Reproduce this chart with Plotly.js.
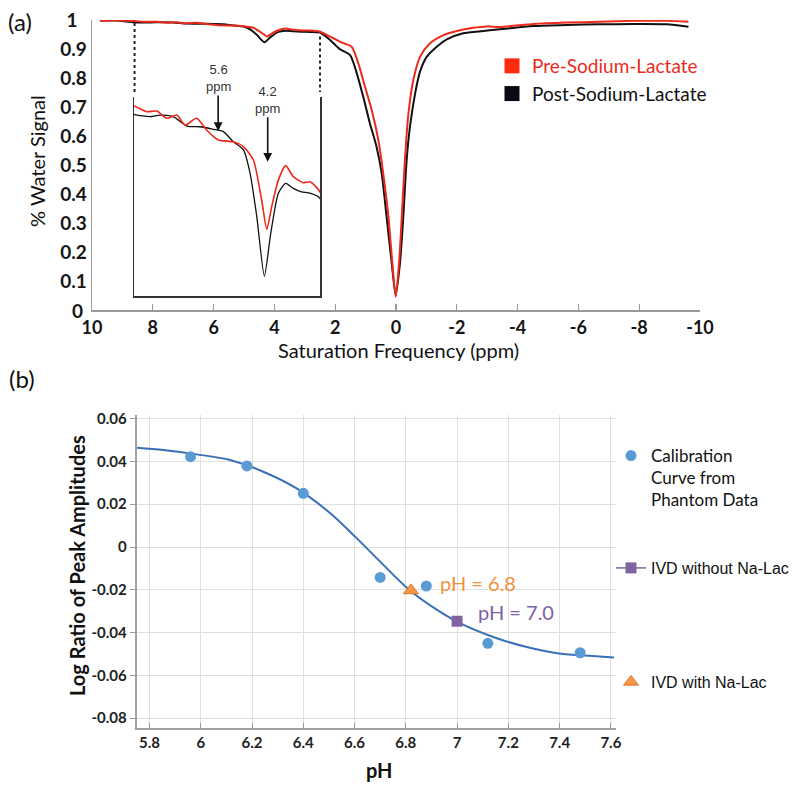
<!DOCTYPE html>
<html><head><meta charset="utf-8">
<script src="https://cdn.plot.ly/plotly-3.0.1.min.js"></script>
<style>html,body{margin:0;padding:0;background:#fff}</style>
</head><body><div id="chart" style="width:800px;height:786px"></div>
<script>
// ---- Panel (a): Z-spectra ----
const postPpm = [9.74, 9.2, 8.61, 8.09, 7.76, 7.33, 6.88, 6.45, 6.01, 5.68, 5.35, 5.02, 4.80, 4.58, 4.33, 4.12, 3.87, 3.63, 3.38, 3.11, 2.83, 2.50, 2.17, 1.84, 1.51, 1.29, 1.08, 0.86, 0.64, 0.47, 0.31, 0.14, 0.01, -0.13, -0.24, -0.35, -0.46, -0.63, -0.79, -1.01, -1.34, -1.67, -2.21, -2.87, -3.42, -4.52, -5.62, -6.71, -7.81, -8.9, -9.62];
const postSignal = [0.998, 0.998, 0.9926, 0.9916, 0.9923, 0.9916, 0.9876, 0.9873, 0.9862, 0.9852, 0.9809, 0.9774, 0.9674, 0.9489, 0.9235, 0.9418, 0.9589, 0.9631, 0.9610, 0.9595, 0.9589, 0.9567, 0.931, 0.899, 0.879, 0.816, 0.736, 0.644, 0.563, 0.471, 0.322, 0.161, 0.052, 0.161, 0.322, 0.517, 0.632, 0.747, 0.822, 0.873, 0.908, 0.933, 0.954, 0.962, 0.968, 0.979, 0.983, 0.985, 0.986, 0.985, 0.977];
const prePpm = [9.74, 9.2, 8.62, 8.20, 7.87, 7.54, 7.21, 6.94, 6.56, 6.23, 5.85, 5.35, 5.02, 4.69, 4.42, 4.25, 4.09, 3.87, 3.63, 3.38, 3.05, 2.83, 2.50, 2.06, 1.73, 1.46, 1.24, 1.02, 0.80, 0.58, 0.42, 0.25, 0.12, 0.01, -0.10, -0.19, -0.30, -0.41, -0.57, -0.79, -1.12, -1.56, -2.0, -2.54, -2.98, -3.42, -4.52, -5.62, -6.71, -7.81, -8.9, -9.62];
const preSignal = [0.997, 0.999, 0.9962, 0.9937, 0.9940, 0.9909, 0.9923, 0.9880, 0.9909, 0.9859, 0.9816, 0.9809, 0.9788, 0.9731, 0.9560, 0.9435, 0.9531, 0.9645, 0.9707, 0.9660, 0.9634, 0.9638, 0.9595, 0.937, 0.920, 0.908, 0.851, 0.770, 0.690, 0.586, 0.471, 0.322, 0.161, 0.046, 0.161, 0.322, 0.529, 0.678, 0.793, 0.873, 0.920, 0.948, 0.962, 0.973, 0.978, 0.976, 0.986, 0.991, 0.994, 0.997, 0.997, 0.994];
const ppmTicks = [10, 8, 6, 4, 2, 0, -2, -4, -6, -8, -10];
const ppmLabels = ['10', '8', '6', '4', '2', '0', '-2', '-4', '-6', '-8', '-10'];
const signalTicks = [0.1, 0.2, 0.3, 0.4, 0.5, 0.6, 0.7, 0.8, 0.9, 1];
const signalLabels = ['0.1', '0.2', '0.3', '0.4', '0.5', '0.6', '0.7', '0.8', '0.9', '1\u00a0\u00a0'];
const signalZeroLabel = '0';
const seriesA = ['Pre-Sodium-Lactate', 'Post-Sodium-Lactate'];

// ---- Panel (b): calibration ----
const fitPH = [5.751, 5.854, 5.984, 6.114, 6.244, 6.374, 6.503, 6.600, 6.698, 6.814, 6.922, 7.013, 7.138, 7.268, 7.398, 7.528, 7.612];
const fitLog = [0.0464, 0.0453, 0.0433, 0.0407, 0.0352, 0.0274, 0.0160, 0.0051, -0.0066, -0.0201, -0.0294, -0.0357, -0.0419, -0.0466, -0.0497, -0.0509, -0.0516];
const calPH = [5.96, 6.18, 6.40, 6.70, 6.88, 7.12, 7.48];
const calLog = [0.0422, 0.0379, 0.0251, -0.0142, -0.0182, -0.0450, -0.0494];
const ivdNoLacPH = [7.0];
const ivdNoLacLog = [-0.0347];
const ivdLacPH = [6.82];
const ivdLacLog = [-0.0203];
const pHTicks = [5.8, 6, 6.2, 6.4, 6.6, 6.8, 7, 7.2, 7.4, 7.6];
const pHLabels = ['5.8', '6', '6.2', '6.4', '6.6', '6.8', '7', '7.2', '7.4', '7.6'];
const logTicks = [-0.08, -0.06, -0.04, -0.02, 0, 0.02, 0.04, 0.06];
const logLabels = ['-0.08', '-0.06', '-0.04', '-0.02', '0', '0.02', '0.04', '0.06'];
const seriesB = ['Calibration<br>Curve from<br>Phantom Data', 'IVD without Na-Lac', 'IVD with Na-Lac'];

const W = 800, H = 786;
const px = v => v / W;
const py = v => 1 - v / H;

const RED = '#ec2a1c', BLACK = '#111111';
const BLUE = '#5b9bd5', CURVE = '#3a6fb7', PURPLE = '#8064a2', ORANGE = '#f79646';

const traces = [
  {x: postPpm, y: postSignal, xaxis: 'x', yaxis: 'y', mode: 'lines', showlegend: false,
   line: {color: BLACK, width: 2, shape: 'spline', smoothing: 0.7}, hoverinfo: 'skip'},
  {x: prePpm, y: preSignal, xaxis: 'x', yaxis: 'y', mode: 'lines', showlegend: false,
   line: {color: RED, width: 2, shape: 'spline', smoothing: 0.7}, hoverinfo: 'skip'},
  {x: postPpm, y: postSignal, xaxis: 'x2', yaxis: 'y2', mode: 'lines', showlegend: false,
   line: {color: BLACK, width: 1.3, shape: 'spline', smoothing: 0.6}, hoverinfo: 'skip'},
  {x: prePpm, y: preSignal, xaxis: 'x2', yaxis: 'y2', mode: 'lines', showlegend: false,
   line: {color: RED, width: 1.6, shape: 'spline', smoothing: 0.6}, hoverinfo: 'skip'},
  {x: [null], y: [null], xaxis: 'x', yaxis: 'y', mode: 'markers', legend: 'legend',
   name: '<span style="color:' + RED + '">' + seriesA[0] + '</span>',
   marker: {symbol: 'square', size: 15, color: '#ff2a12'}},
  {x: [null], y: [null], xaxis: 'x', yaxis: 'y', mode: 'markers', legend: 'legend',
   name: seriesA[1], marker: {symbol: 'square', size: 15, color: '#0a0a14'}},

  {x: fitPH, y: fitLog, xaxis: 'x3', yaxis: 'y3', mode: 'lines', showlegend: false,
   line: {color: CURVE, width: 2, shape: 'spline', smoothing: 0.9}, hoverinfo: 'skip'},
  {x: calPH, y: calLog, xaxis: 'x3', yaxis: 'y3', mode: 'markers', legend: 'legend2',
   name: seriesB[0], marker: {symbol: 'circle', size: 11, color: BLUE}},
  {x: ivdNoLacPH, y: ivdNoLacLog, xaxis: 'x3', yaxis: 'y3', mode: 'lines+markers', legend: 'legend3',
   name: seriesB[1], marker: {symbol: 'square', size: 11, color: PURPLE}, line: {color: PURPLE, width: 1.5}},
  {x: ivdLacPH, y: ivdLacLog, xaxis: 'x3', yaxis: 'y3', mode: 'markers', legend: 'legend4',
   name: seriesB[2], marker: {symbol: 'triangle-up', size: 13, color: ORANGE, line: {color: '#e0782a', width: 1}}}
];

const tickFontA = {family: 'Lato', size: 19, color: '#151515', weight: 'bold'};
const tickFontB = {family: 'Lato', size: 15, color: '#222', weight: 'bold'};
const C = {xanchor: 'center', yanchor: 'middle', showarrow: false};

const layout = {
  width: W, height: H,
  margin: {l: 0, r: 0, t: 0, b: 0},
  paper_bgcolor: '#fff', plot_bgcolor: 'rgba(0,0,0,0)',
  xaxis: {domain: [px(92), px(700)], range: [10, -10], anchor: 'y',
    tickmode: 'array', tickvals: ppmTicks, ticktext: ppmLabels,
    ticks: 'inside', ticklen: 6, tickwidth: 1.2, tickcolor: '#999',
    showline: true, linecolor: '#9a9a9a', linewidth: 1.5, ticklabelstandoff: 1,
    showgrid: false, zeroline: false, tickfont: {family: 'Lato', size: 18, color: '#151515', weight: 'bold'}},
  yaxis: {domain: [py(310), py(20)], range: [0, 1], anchor: 'x',
    tickmode: 'array', tickvals: signalTicks, ticktext: signalLabels,
    ticks: '', showline: true, linecolor: '#9a9a9a', linewidth: 1.5,
    showgrid: false, zeroline: false, tickfont: tickFontA},
  xaxis2: {domain: [px(134), px(320)], range: [8.62, 2.5], anchor: 'y2',
    showline: true, linecolor: '#333', linewidth: 1.5, mirror: false,
    showticklabels: false, ticks: '', showgrid: false, zeroline: false},
  yaxis2: {domain: [py(296), py(97)], range: [0.915, 1.0], anchor: 'x2',
    showline: true, linecolor: '#333', linewidth: 1.5, mirror: true,
    showticklabels: false, ticks: '', showgrid: false, zeroline: false},
  xaxis3: {domain: [px(136.7), px(616)], range: [5.75, 7.62], anchor: 'y3',
    tickmode: 'array', tickvals: pHTicks, ticktext: pHLabels,
    ticks: 'inside', ticklen: 5, tickcolor: '#999',
    showline: true, linecolor: '#a0a0a0', linewidth: 2,
    showgrid: true, gridcolor: '#e0e0e0', gridwidth: 1, zeroline: false, tickfont: tickFontB},
  yaxis3: {domain: [py(728.3), py(415)], range: [-0.0847, 0.0617], anchor: 'x3',
    tickmode: 'array', tickvals: logTicks, ticktext: logLabels,
    ticks: 'outside', ticklen: 5, tickcolor: '#999',
    showline: true, linecolor: '#a0a0a0', linewidth: 2,
    showgrid: true, gridcolor: '#e0e0e0', gridwidth: 1, zeroline: false, tickfont: tickFontB},
  legend: {x: px(492), y: py(47), xanchor: 'left', yanchor: 'top', bgcolor: 'rgba(0,0,0,0)',
    font: {family: 'Lato', size: 19, color: '#111'}, tracegroupgap: 0},
  legend2: {x: px(611), y: py(438), xanchor: 'left', yanchor: 'top', valign: 'top', bgcolor: 'rgba(0,0,0,0)',
    font: {family: 'Lato', size: 17, color: '#111'}},
  legend3: {x: px(611), y: py(568), xanchor: 'left', yanchor: 'middle', bgcolor: 'rgba(0,0,0,0)',
    font: {family: 'Liberation Sans', size: 16, color: '#111'}},
  legend4: {x: px(611), y: py(682), xanchor: 'left', yanchor: 'middle', bgcolor: 'rgba(0,0,0,0)',
    font: {family: 'Liberation Sans', size: 16, color: '#111'}},
  shapes: [
    {type: 'line', xref: 'x', yref: 'y', x0: 8.6, x1: 8.6, y0: 0.99, y1: 0.752,
     line: {color: '#222', width: 2, dash: 'dot'}},
    {type: 'line', xref: 'x', yref: 'y', x0: 2.5, x1: 2.5, y0: 0.943, y1: 0.752,
     line: {color: '#222', width: 2, dash: 'dot'}}
  ],
  annotations: [
    Object.assign({text: signalZeroLabel, xref: 'paper', yref: 'y', x: px(77), y: 0,
     font: tickFontA}, C),
    Object.assign({text: '(a)', xref: 'paper', yref: 'paper', x: px(20), y: py(22),
     font: {family: 'Lato', size: 24, color: '#111'}}, C),
    Object.assign({text: '(b)', xref: 'paper', yref: 'paper', x: px(22), y: py(378),
     font: {family: 'Lato', size: 24, color: '#111'}}, C),
    Object.assign({text: '% Water Signal', xref: 'paper', yref: 'paper', x: px(37), y: py(161), textangle: -90,
     font: {family: 'Lato', size: 20, color: '#111'}}, C),
    Object.assign({text: 'Saturation Frequency (ppm)', xref: 'paper', yref: 'paper', x: px(398), y: py(350),
     font: {family: 'Lato', size: 20, color: '#111'}}, C),
    Object.assign({text: 'Log Ratio of Peak Amplitudes', xref: 'paper', yref: 'paper', x: px(77), y: py(566), textangle: -90,
     font: {family: 'Lato', size: 20, color: '#111', weight: 'bold'}}, C),
    Object.assign({text: 'pH', xref: 'paper', yref: 'paper', x: px(379), y: py(770),
     font: {family: 'Lato', size: 20, color: '#111', weight: 'bold'}}, C),
    {text: '5.6<br>ppm', xref: 'x', yref: 'y', x: 5.85, y: 0.617, ax: 0, ay: -53,
     showarrow: true, arrowhead: 2, arrowsize: 1.1, arrowwidth: 1.6, arrowcolor: '#111',
     font: {family: 'Liberation Sans', size: 13, color: '#333'}},
    {text: '4.2<br>ppm', xref: 'x', yref: 'y', x: 4.22, y: 0.511, ax: 0, ay: -62,
     showarrow: true, arrowhead: 2, arrowsize: 1.1, arrowwidth: 1.6, arrowcolor: '#111',
     font: {family: 'Liberation Sans', size: 13, color: '#333'}},
    Object.assign({text: 'pH = 6.8', xref: 'x3', yref: 'y3', x: 7.083, y: -0.0168,
     font: {family: 'Lato', size: 20, color: '#f0923a'}}, C),
    Object.assign({text: 'pH = 7.0', xref: 'x3', yref: 'y3', x: 7.229, y: -0.0304,
     font: {family: 'Lato', size: 20, color: '#7e5ea6'}}, C)
  ]
};

Plotly.newPlot('chart', traces, layout, {staticPlot: true, displayModeBar: false});
</script>
</body></html>
